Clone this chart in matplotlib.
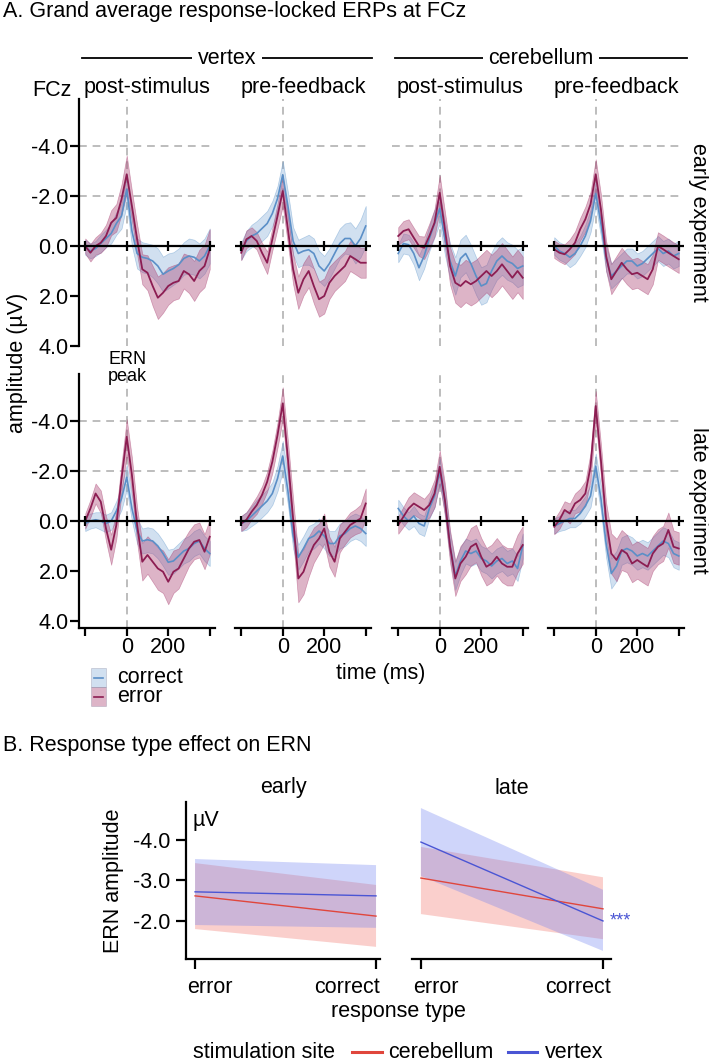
import numpy as np
import matplotlib
matplotlib.use('Agg')
import matplotlib.pyplot as plt
from matplotlib.patches import Rectangle
from matplotlib.lines import Line2D

plt.rcParams['font.family'] = ['Liberation Sans', 'DejaVu Sans']
plt.rcParams['font.size'] = 15.5

# ---------------- data: panel A (grand average ERPs at FCz, µV) ----------------
time_ms = np.arange(-200, 401, 25)

# vertex, post-stimulus, early
vx_post_early_err = [0.0, 0.27, 0.0, -0.13, -0.4, -0.93, -1.13, -1.87, -2.87, -1.6, -0.27, 0.93, 1.07, 1.6, 2.07, 1.87, 1.6, 1.47, 1.4, 1.0, 1.13, 1.4, 1.0, 0.8, 0.13]
vx_post_early_err_ci = [0.3, 0.35, 0.35, 0.4, 0.45, 0.5, 0.55, 0.6, 0.75, 0.6, 0.6, 0.6, 0.7, 0.8, 0.85, 0.8, 0.75, 0.7, 0.7, 0.7, 0.75, 0.8, 0.85, 0.85, 0.8]
vx_post_early_cor = [0.05, 0.2, 0.1, -0.1, -0.3, -0.5, -0.9, -1.2, -2.27, -0.6, 0.3, 0.45, 0.5, 0.6, 0.8, 1.13, 1.0, 0.9, 0.75, 0.5, 0.4, 0.45, 0.6, 0.4, 0.0]
vx_post_early_cor_ci = [0.3, 0.3, 0.3, 0.35, 0.35, 0.4, 0.45, 0.5, 0.6, 0.6, 0.6, 0.6, 0.6, 0.65, 0.7, 0.7, 0.7, 0.65, 0.65, 0.65, 0.7, 0.7, 0.7, 0.7, 0.7]

# vertex, pre-feedback, early
vx_pre_early_err = [0.27, -0.27, -0.4, -0.2, 0.27, 0.67, -0.27, -1.2, -2.2, -0.67, 0.93, 1.87, 1.33, 1.0, 1.6, 2.13, 2.0, 1.47, 1.2, 1.0, 0.8, 0.4, 0.53, 0.67, 0.67]
vx_pre_early_err_ci = [0.3, 0.35, 0.35, 0.35, 0.4, 0.45, 0.45, 0.5, 0.6, 0.6, 0.6, 0.65, 0.65, 0.65, 0.7, 0.7, 0.7, 0.65, 0.6, 0.6, 0.6, 0.6, 0.6, 0.6, 0.6]
vx_pre_early_cor = [0.2, -0.2, -0.4, -0.5, -0.7, -0.9, -1.3, -1.9, -2.85, -1.6, -0.2, 0.3, 0.2, 0.15, 0.3, 0.8, 1.0, 0.7, 0.3, -0.1, -0.3, -0.3, 0.0, -0.3, -0.8]
vx_pre_early_cor_ci = [0.35, 0.4, 0.45, 0.5, 0.5, 0.5, 0.5, 0.5, 0.55, 0.55, 0.55, 0.55, 0.55, 0.6, 0.6, 0.6, 0.6, 0.6, 0.6, 0.6, 0.6, 0.65, 0.7, 0.75, 0.8]

# cerebellum, post-stimulus, early
cb_post_early_err = [-0.4, -0.6, -0.67, -0.33, 0.0, 0.07, -0.4, -0.93, -2.13, -0.67, 0.8, 1.47, 1.6, 1.4, 1.53, 1.4, 1.2, 1.0, 1.2, 1.0, 0.73, 1.0, 1.27, 1.0, 1.27]
cb_post_early_err_ci = [0.35, 0.4, 0.4, 0.4, 0.4, 0.45, 0.5, 0.55, 0.7, 0.7, 0.75, 0.8, 0.85, 0.85, 0.85, 0.85, 0.85, 0.85, 0.85, 0.85, 0.85, 0.85, 0.85, 0.85, 0.85]
cb_post_early_cor = [0.3, -0.1, -0.05, 0.3, 0.87, 0.4, -0.3, -0.9, -1.5, -0.3, 0.6, 1.2, 0.5, 0.3, 0.7, 1.2, 1.6, 1.5, 1.0, 0.6, 0.4, 0.6, 0.7, 0.9, 0.8]
cb_post_early_cor_ci = [0.35, 0.4, 0.4, 0.45, 0.5, 0.5, 0.5, 0.55, 0.6, 0.65, 0.7, 0.75, 0.75, 0.75, 0.75, 0.75, 0.75, 0.75, 0.75, 0.75, 0.75, 0.75, 0.75, 0.75, 0.75]

# cerebellum, pre-feedback, early
cb_pre_early_err = [0.13, 0.27, 0.33, 0.13, -0.13, -0.67, -1.07, -1.67, -2.87, -1.47, 0.4, 1.33, 1.0, 0.67, 0.93, 1.13, 1.07, 1.2, 1.33, 0.93, 0.0, 0.13, 0.27, 0.4, 0.53]
cb_pre_early_err_ci = [0.35, 0.35, 0.4, 0.4, 0.45, 0.45, 0.5, 0.5, 0.6, 0.6, 0.6, 0.6, 0.6, 0.6, 0.6, 0.6, 0.6, 0.6, 0.6, 0.6, 0.55, 0.55, 0.55, 0.55, 0.55]
cb_pre_early_cor = [0.0, 0.2, 0.3, 0.45, 0.3, 0.0, -0.4, -1.0, -2.1, -0.9, 0.5, 1.2, 1.0, 0.8, 0.6, 0.6, 0.8, 0.7, 0.5, 0.3, 0.1, 0.3, 0.2, 0.4, 0.3]
cb_pre_early_cor_ci = [0.35, 0.35, 0.35, 0.4, 0.4, 0.4, 0.45, 0.45, 0.5, 0.5, 0.5, 0.5, 0.5, 0.5, 0.5, 0.5, 0.5, 0.5, 0.5, 0.5, 0.5, 0.5, 0.5, 0.5, 0.5]

# vertex, post-stimulus, late
vx_post_late_err = [0.0, -0.5, -1.1, -0.77, 0.3, 1.15, 0.16, -1.7, -3.37, -1.84, 0.16, 1.63, 1.36, 1.63, 1.9, 2.03, 2.43, 2.03, 1.9, 1.5, 1.1, 0.83, 0.76, 1.23, 0.63]
vx_post_late_err_ci = [0.3, 0.35, 0.4, 0.45, 0.5, 0.6, 0.55, 0.6, 0.7, 0.7, 0.7, 0.75, 0.75, 0.8, 0.85, 0.85, 0.9, 0.85, 0.8, 0.75, 0.7, 0.7, 0.7, 0.7, 0.7]
vx_post_late_cor = [0.1, 0.0, -0.05, 0.0, 0.1, 0.0, -0.4, -0.9, -1.75, -0.5, 0.4, 0.8, 0.75, 0.8, 1.0, 1.3, 1.65, 1.6, 1.4, 1.2, 1.1, 0.9, 0.8, 1.1, 1.3]
vx_post_late_cor_ci = [0.3, 0.3, 0.3, 0.35, 0.35, 0.35, 0.4, 0.45, 0.5, 0.5, 0.5, 0.5, 0.5, 0.5, 0.5, 0.5, 0.5, 0.5, 0.5, 0.5, 0.5, 0.5, 0.5, 0.5, 0.5]

# vertex, pre-feedback, late
vx_pre_late_err = [0.1, -0.05, -0.37, -0.64, -1.04, -1.57, -2.37, -3.44, -4.7, -2.5, -0.1, 2.3, 2.03, 1.43, 0.96, 0.7, 0.3, 1.23, 1.63, 0.7, 0.43, 0.16, 0.03, -0.1, -0.7]
vx_pre_late_err_ci = [0.3, 0.3, 0.3, 0.35, 0.35, 0.4, 0.45, 0.5, 0.65, 0.7, 0.8, 0.95, 0.9, 0.8, 0.7, 0.6, 0.6, 0.6, 0.6, 0.55, 0.5, 0.5, 0.5, 0.55, 0.6]
vx_pre_late_cor = [0.1, 0.0, -0.2, -0.4, -0.6, -0.8, -1.1, -1.7, -2.6, -1.2, 0.6, 1.45, 1.1, 0.7, 0.6, 0.4, 0.6, 0.9, 0.9, 0.6, 0.5, 0.3, 0.2, 0.3, 0.5]
vx_pre_late_cor_ci = [0.3, 0.35, 0.4, 0.45, 0.45, 0.45, 0.45, 0.5, 0.6, 0.55, 0.5, 0.5, 0.5, 0.5, 0.5, 0.5, 0.5, 0.5, 0.5, 0.5, 0.5, 0.5, 0.5, 0.5, 0.5]

# cerebellum, post-stimulus, late
cb_post_late_err = [0.16, -0.17, -0.5, -0.7, -0.57, -0.44, -0.64, -1.1, -2.17, -0.84, 1.03, 2.3, 1.7, 1.43, 1.03, 0.9, 1.43, 1.83, 1.7, 1.43, 1.7, 1.83, 1.83, 1.3, 0.96]
cb_post_late_err_ci = [0.35, 0.4, 0.45, 0.45, 0.45, 0.45, 0.5, 0.55, 0.65, 0.65, 0.65, 0.7, 0.7, 0.7, 0.75, 0.75, 0.75, 0.75, 0.75, 0.75, 0.75, 0.75, 0.75, 0.75, 0.75]
cb_post_late_cor = [-0.5, -0.2, 0.0, -0.2, 0.1, 0.2, -0.5, -1.0, -2.0, -0.8, 1.0, 2.2, 1.6, 1.2, 1.3, 1.2, 1.5, 1.6, 1.8, 1.6, 1.5, 1.7, 1.6, 1.9, 1.0]
cb_post_late_cor_ci = [0.35, 0.35, 0.35, 0.4, 0.4, 0.4, 0.4, 0.45, 0.5, 0.5, 0.5, 0.55, 0.55, 0.5, 0.5, 0.5, 0.5, 0.5, 0.5, 0.5, 0.5, 0.5, 0.5, 0.5, 0.5]

# cerebellum, pre-feedback, late
cb_pre_late_err = [0.23, -0.04, -0.44, -0.3, -0.7, -0.84, -1.1, -2.17, -4.6, -2.43, -0.04, 1.3, 1.56, 1.16, 1.3, 1.7, 1.56, 1.7, 1.83, 1.3, 1.03, 0.9, 0.36, 1.03, 1.1]
cb_pre_late_err_ci = [0.3, 0.35, 0.35, 0.4, 0.4, 0.45, 0.5, 0.55, 0.6, 0.65, 0.7, 0.8, 0.85, 0.8, 0.75, 0.75, 0.75, 0.75, 0.75, 0.7, 0.7, 0.7, 0.7, 0.65, 0.65]
cb_pre_late_cor = [0.2, 0.1, 0.0, -0.1, -0.1, -0.3, -0.6, -1.0, -2.2, -0.9, 0.9, 2.1, 1.8, 1.2, 1.1, 1.2, 1.4, 1.3, 1.4, 1.2, 1.0, 0.8, 0.9, 1.3, 1.4]
cb_pre_late_cor_ci = [0.3, 0.3, 0.35, 0.35, 0.35, 0.4, 0.4, 0.45, 0.5, 0.5, 0.55, 0.6, 0.6, 0.55, 0.55, 0.55, 0.55, 0.55, 0.55, 0.55, 0.55, 0.55, 0.55, 0.55, 0.55]

# ---------------- data: panel B (ERN amplitude by response type, µV) ----------------
resp_types = ['error', 'correct']
early_vertex = [-2.72, -2.62]
early_vertex_lo = [-3.53, -3.38]
early_vertex_hi = [-1.90, -1.83]
early_cereb = [-2.62, -2.12]
early_cereb_lo = [-3.43, -2.89]
early_cereb_hi = [-1.80, -1.36]
late_vertex = [-3.95, -2.00]
late_vertex_lo = [-4.79, -2.77]
late_vertex_hi = [-3.11, -1.26]
late_cereb = [-3.06, -2.30]
late_cereb_lo = [-3.83, -3.08]
late_cereb_hi = [-2.17, -1.55]

# ---------------- layout helpers (pixels -> figure fraction) ----------------
W, H = 709, 1061
fig = plt.figure(figsize=(W / 100, H / 100), dpi=100)


def rect(left, top, w, h):
    return [left / W, 1 - (top + h) / H, w / W, h / H]


def fxy(x, y):
    return x / W, 1 - y / H


COR_LINE = '#5b8fc7'
COR_FILL = (0.44, 0.63, 0.82, 0.32)
ERR_LINE = '#8c1d52'
ERR_FILL = (0.66, 0.23, 0.43, 0.38)
GRID = '#bdbdbd'
LW = 1.6

panels = {
    ('vertex', 'post', 'early'): (vx_post_early_cor, vx_post_early_cor_ci, vx_post_early_err, vx_post_early_err_ci),
    ('vertex', 'pre', 'early'): (vx_pre_early_cor, vx_pre_early_cor_ci, vx_pre_early_err, vx_pre_early_err_ci),
    ('cereb', 'post', 'early'): (cb_post_early_cor, cb_post_early_cor_ci, cb_post_early_err, cb_post_early_err_ci),
    ('cereb', 'pre', 'early'): (cb_pre_early_cor, cb_pre_early_cor_ci, cb_pre_early_err, cb_pre_early_err_ci),
    ('vertex', 'post', 'late'): (vx_post_late_cor, vx_post_late_cor_ci, vx_post_late_err, vx_post_late_err_ci),
    ('vertex', 'pre', 'late'): (vx_pre_late_cor, vx_pre_late_cor_ci, vx_pre_late_err, vx_pre_late_err_ci),
    ('cereb', 'post', 'late'): (cb_post_late_cor, cb_post_late_cor_ci, cb_post_late_err, cb_post_late_err_ci),
    ('cereb', 'pre', 'late'): (cb_pre_late_cor, cb_pre_late_cor_ci, cb_pre_late_err, cb_pre_late_err_ci),
}

cols = [('vertex', 'post'), ('vertex', 'pre'), ('cereb', 'post'), ('cereb', 'pre')]
col_left = [79, 235, 392, 548]
col_title = {'post': 'post-stimulus', 'pre': 'pre-feedback'}
rows = [('early', 98.5, 247.5, 4.0), ('late', 373.5, 254.0, 4.26)]
tick_ms = [-200, 0, 200, 400]

for r, (block, top, height, ybot) in enumerate(rows):
    for c, (site, phase) in enumerate(cols):
        ax = fig.add_axes(rect(col_left[c], top, 136, height))
        ax.set_xlim(-230, 425.4)
        ax.set_ylim(ybot, -5.9)
        for yg in (-4, -2):
            ax.axhline(yg, color=GRID, lw=1.4, ls=(0, (4, 3)), zorder=0)
        ax.axvline(0, color=GRID, lw=1.4, ls=(0, (4, 3)), zorder=0)

        cor, cor_ci, err, err_ci = [np.array(a) for a in panels[(site, phase, block)]]
        ax.fill_between(time_ms, cor - cor_ci, cor + cor_ci, facecolor=COR_FILL,
                        edgecolor=(0.44, 0.63, 0.82, 0.5), lw=0.5, zorder=1)
        ax.fill_between(time_ms, err - err_ci, err + err_ci, facecolor=ERR_FILL,
                        edgecolor=(0.66, 0.23, 0.43, 0.45), lw=0.5, zorder=1)
        ax.plot(time_ms, cor, color=COR_LINE, lw=1.2, zorder=2)
        ax.plot(time_ms, err, color=ERR_LINE, lw=1.3, zorder=2)

        ax.axhline(0, color='black', lw=LW, zorder=3)
        ax.plot(tick_ms, np.zeros(len(tick_ms)), ls='none', marker='|', ms=7,
                mew=1.6, color='black', zorder=4)

        for s in ax.spines.values():
            s.set_visible(False)
        if c == 0:
            ax.spines['left'].set_visible(True)
            ax.spines['left'].set_linewidth(LW)
            ax.set_yticks([-4, -2, 0, 2, 4])
            ax.set_yticklabels(['-4.0', '-2.0', '0.0', '2.0', '4.0'])
            ax.tick_params(axis='y', length=6.5, width=LW, pad=1, labelsize=15.5)
        else:
            ax.set_yticks([])
        if r == 1:
            ax.spines['bottom'].set_visible(True)
            ax.spines['bottom'].set_linewidth(LW)
            ax.set_xticks(tick_ms)
            ax.set_xticklabels(['', '0', '200', ''])
            ax.tick_params(axis='x', length=5.5, width=LW, pad=1, labelsize=15.5)
        else:
            ax.set_xticks([])
        if r == 0:
            fig.text(*fxy(col_left[c] + 68, 87), col_title[phase], ha='center', va='center')

# headers and labels of panel A
fig.text(*fxy(3, 11), 'A. Grand average response-locked ERPs at FCz', ha='left', va='center')
for x0, x1, label in [(82, 372, 'vertex'), (395, 687, 'cerebellum')]:
    fig.add_artist(Line2D([x0 / W, x1 / W], [1 - 58 / H] * 2, color='black', lw=1.3))
    fig.text(*fxy((x0 + x1) / 2, 58), label, ha='center', va='center',
             bbox=dict(fc='white', ec='none', pad=4))
fig.text(*fxy(72, 91), 'FCz', ha='right', va='center')
fig.text(*fxy(699, 222), 'early experiment', ha='center', va='center', rotation=270)
fig.text(*fxy(699, 500), 'late experiment', ha='center', va='center', rotation=270)
fig.text(*fxy(18, 363), 'amplitude (µV)', ha='center', va='center', rotation=90)
fig.text(*fxy(108, 368), 'ERN\npeak', ha='left', va='center', fontsize=13, linespacing=1.05)
fig.text(*fxy(381, 674), 'time (ms)', ha='center', va='center')

# legend of panel A
for ytop, fill, line, label in [(668, COR_FILL, COR_LINE, 'correct'), (687, ERR_FILL, ERR_LINE, 'error')]:
    x, y = fxy(91, ytop + 19)
    fig.add_artist(Rectangle((x, y), 15 / W, 19 / H, transform=fig.transFigure,
                             fc=fill, ec=(0.5, 0.5, 0.6, 0.35), lw=0.6))
    fig.add_artist(Line2D([94 / W, 103 / W], [1 - (ytop + 9.5) / H] * 2, color=line, lw=1.2))
    fig.text(*fxy(117, ytop + 9.5), label, ha='left', va='center')

# ---------------- panel B ----------------
RED = '#e0463c'
BLUE = '#4a55d4'
RED_FILL = (0.94, 0.44, 0.40, 0.33)
BLUE_FILL = (0.44, 0.50, 0.94, 0.33)

fig.text(*fxy(3, 745), 'B. Response type effect on ERN', ha='left', va='center')
resp_x = [0, 1]
b_panels = [
    ('early', 186, 194, (-0.05, 1.022), early_cereb, early_cereb_lo, early_cereb_hi,
     early_vertex, early_vertex_lo, early_vertex_hi),
    ('late', 412, 199, (-0.049, 1.044), late_cereb, late_cereb_lo, late_cereb_hi,
     late_vertex, late_vertex_lo, late_vertex_hi),
]
for i, (block, left, width, xl, cb, cb_lo, cb_hi, vx, vx_lo, vx_hi) in enumerate(b_panels):
    ax = fig.add_axes(rect(left, 802, width, 157))
    ax.set_xlim(*xl)
    ax.set_ylim(-1.06, -4.94)
    ax.fill_between(resp_x, cb_lo, cb_hi, facecolor=RED_FILL, lw=0)
    ax.fill_between(resp_x, vx_lo, vx_hi, facecolor=BLUE_FILL, lw=0)
    ax.plot(resp_x, cb, color=RED, lw=1.0)
    ax.plot(resp_x, vx, color=BLUE, lw=1.0)
    for s in ax.spines.values():
        s.set_visible(False)
    ax.spines['bottom'].set_visible(True)
    ax.spines['bottom'].set_linewidth(LW)
    ax.set_xticks(resp_x)
    ax.set_xticklabels([])
    ax.tick_params(axis='x', length=7, width=LW)
    ax.text(-0.045, -0.18, resp_types[0], transform=ax.get_xaxis_transform(),
            ha='left', va='center')
    ax.text(xl[1], -0.18, resp_types[1], transform=ax.get_xaxis_transform(),
            ha='right', va='center')
    fig.text(*fxy(left + width / 2, 788), block, ha='center', va='center')
    if i == 0:
        ax.spines['left'].set_visible(True)
        ax.spines['left'].set_linewidth(LW)
        ax.set_yticks([-4, -3, -2])
        ax.set_yticklabels(['-4.0', '-3.0', '-2.0'])
        ax.tick_params(axis='y', length=7, width=LW, pad=4, labelsize=15.5)
        ax.text(0.031, 0.885, 'µV', transform=ax.transAxes, ha='left', va='center')
    else:
        ax.set_yticks([])
        ax.text(1.035, vx[1], '***', color=BLUE, ha='left', va='center',
                fontsize=13, clip_on=False)

fig.text(*fxy(113, 881), 'ERN amplitude', ha='center', va='center', rotation=90)
fig.text(*fxy(398, 1011), 'response type', ha='center', va='center')

# legend of panel B
ly = 1 - 1052 / H
fig.text(193 / W, ly, 'stimulation site', ha='left', va='center')
fig.add_artist(Line2D([352 / W, 382 / W], [ly, ly], color=RED, lw=2.2))
fig.text(388 / W, ly, 'cerebellum', ha='left', va='center')
fig.add_artist(Line2D([508 / W, 537 / W], [ly, ly], color=BLUE, lw=2.2))
fig.text(545 / W, ly, 'vertex', ha='left', va='center')

fig.savefig('out.png', dpi=100)
